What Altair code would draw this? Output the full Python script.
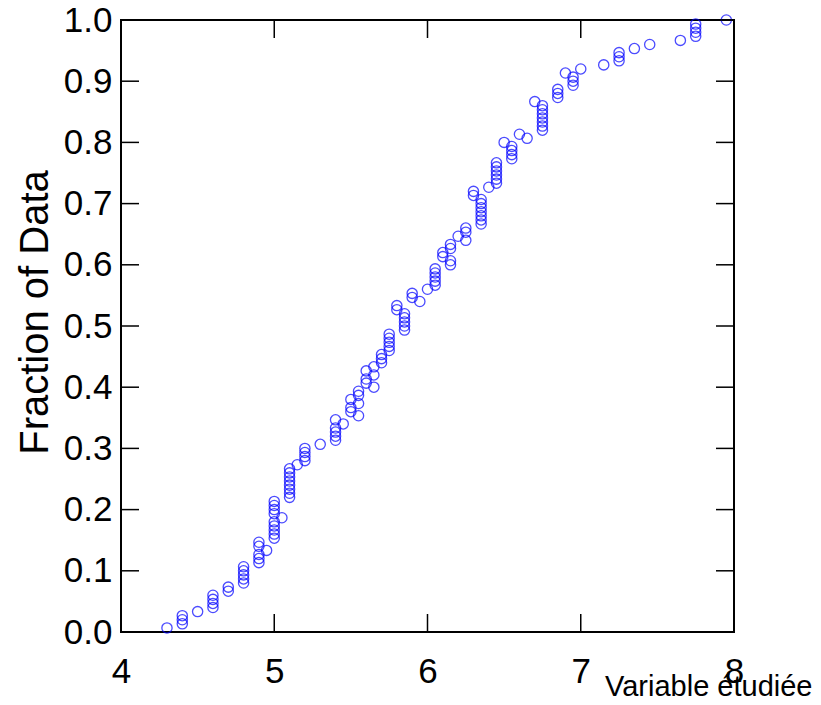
import altair as alt
import pandas as pd

# Values of the studied variable, listed in the order of their cumulative rank
x_values = [
    4.3,
    4.4, 4.4, 4.4,
    4.5,
    4.6, 4.6, 4.6, 4.6,
    4.7, 4.7,
    4.8, 4.8, 4.8, 4.8, 4.8,
    4.9, 4.9, 4.9, 4.95, 4.9, 4.9,
    5.0, 5.0, 5.0, 5.0, 5.0, 5.05, 5.0, 5.0, 5.0, 5.0,
    5.1, 5.1, 5.1, 5.1, 5.1, 5.1, 5.1, 5.1, 5.15,
    5.2, 5.2, 5.2, 5.2,
    5.3,
    5.4, 5.4, 5.4, 5.4, 5.45, 5.4,
    5.55, 5.5, 5.5, 5.55, 5.5, 5.55, 5.55,
    5.65, 5.6, 5.6, 5.65, 5.6, 5.65,
    5.7, 5.7, 5.7, 5.75, 5.75, 5.75, 5.75, 5.75,
    5.85, 5.85, 5.85, 5.85, 5.85, 5.8, 5.8,
    5.95, 5.9, 5.9,
    6.0, 6.05, 6.05, 6.05, 6.05, 6.05,
    6.15, 6.15, 6.1, 6.1, 6.15, 6.15,
    6.25, 6.2, 6.25, 6.25,
    6.35, 6.35, 6.35, 6.35, 6.35, 6.35, 6.35, 6.3, 6.3,
    6.4, 6.45, 6.45, 6.45, 6.45, 6.45, 6.45,
    6.55, 6.55, 6.55, 6.55, 6.5,
    6.65, 6.6,
    6.75, 6.75, 6.75, 6.75, 6.75, 6.75, 6.75, 6.7,
    6.85, 6.85, 6.85,
    6.95, 6.95, 6.95, 6.9,
    7.0,
    7.15,
    7.25, 7.25, 7.25,
    7.35,
    7.45,
    7.65,
    7.75, 7.75, 7.75, 7.75,
    7.95,
]

x_ticks = [4, 5, 6, 7, 8]
y_ticks = [0.0, 0.1, 0.2, 0.3, 0.4, 0.5, 0.6, 0.7, 0.8, 0.9, 1.0]

df = pd.DataFrame({"value": x_values})
xt = pd.DataFrame({"t": x_ticks})
yt = pd.DataFrame({"t": y_ticks})

FONT = "Liberation Sans"
W, H, TICK = 613, 612, 18
xscale = alt.Scale(domain=[4, 8], nice=False, zero=False)
yscale = alt.Scale(domain=[0, 1], nice=False)

x_axis = alt.Axis(
    orient="bottom", values=x_ticks, format="d",
    ticks=False, tickSize=0, domain=False, grid=False,
    labelFont=FONT, labelFontSize=35, labelPadding=22, labelColor="black",
    labelFlush=False,
    title="Variable étudiée", titleFont=FONT, titleFontSize=29,
    titleFontWeight="normal", titleColor="black",
    titleAlign="right", titleBaseline="alphabetic",
    titleX=691, titleY=63,
)
y_axis = alt.Axis(
    orient="left", values=y_ticks, format=".1f",
    ticks=False, tickSize=0, domain=False, grid=False,
    labelFont=FONT, labelFontSize=35, labelPadding=9, labelColor="black",
    labelFlush=False,
    title="Fraction of Data", titleFont=FONT, titleFontSize=40,
    titleFontWeight="normal", titleColor="black",
    titleAlign="center", titleBaseline="alphabetic",
    titleX=-74, titleY=292,
)

points = (
    alt.Chart(df)
    .transform_window(rank="row_number()")
    .transform_joinaggregate(total="count()")
    .transform_calculate(frac="datum.rank / datum.total")
    .mark_point(shape="circle", filled=False, color="#0000ff", size=105, strokeWidth=1.3)
    .encode(
        x=alt.X("value:Q", scale=xscale, axis=x_axis),
        y=alt.Y("frac:Q", scale=yscale, axis=y_axis),
    )
)

tick_style = dict(color="black", strokeWidth=1.5)

x_ticks_bottom = alt.Chart(xt).mark_rule(**tick_style).encode(
    x=alt.X("t:Q", scale=xscale, axis=x_axis), y=alt.value(H), y2=alt.value(H - TICK)
)
x_ticks_top = alt.Chart(xt).mark_rule(**tick_style).encode(
    x=alt.X("t:Q", scale=xscale, axis=x_axis), y=alt.value(0), y2=alt.value(TICK)
)
y_ticks_left = alt.Chart(yt).mark_rule(**tick_style).encode(
    y=alt.Y("t:Q", scale=yscale, axis=y_axis), x=alt.value(0), x2=alt.value(TICK)
)
y_ticks_right = alt.Chart(yt).mark_rule(**tick_style).encode(
    y=alt.Y("t:Q", scale=yscale, axis=y_axis), x=alt.value(W), x2=alt.value(W - TICK)
)

chart = (
    alt.layer(points, x_ticks_bottom, x_ticks_top, y_ticks_left, y_ticks_right)
    .properties(
        width=W, height=H,
        autosize=alt.AutoSizeParams(type="none"),
        padding={"left": 113, "top": 12, "right": 79, "bottom": 66},
        background="white",
    )
    .configure_view(stroke="black", strokeWidth=2)
)

chart.save("out.html", embed_options={"renderer": "svg", "actions": False})
